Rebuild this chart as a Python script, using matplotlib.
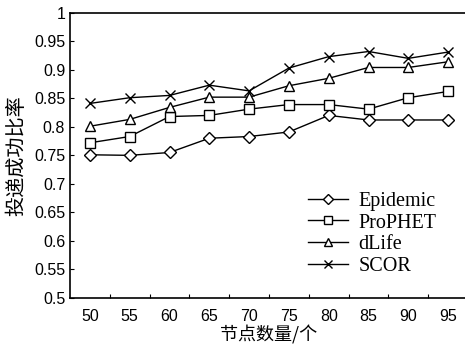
import matplotlib
matplotlib.use('Agg')
import matplotlib.pyplot as plt

# 节点数量 (categories) and delivery ratio per protocol
nodes = ['50', '55', '60', '65', '70', '75', '80', '85', '90', '95']
epidemic = [0.751, 0.750, 0.755, 0.780, 0.783, 0.791, 0.820, 0.812, 0.812, 0.812]
prophet = [0.772, 0.783, 0.818, 0.820, 0.831, 0.839, 0.839, 0.831, 0.851, 0.862]
dlife = [0.801, 0.813, 0.834, 0.852, 0.852, 0.872, 0.885, 0.904, 0.904, 0.914]
scor = [0.841, 0.851, 0.855, 0.873, 0.863, 0.903, 0.923, 0.932, 0.920, 0.931]
yticks = [0.5, 0.55, 0.6, 0.65, 0.7, 0.75, 0.8, 0.85, 0.9, 0.95, 1]

cjk = ['Noto Sans CJK SC', 'DejaVu Sans']
num_font = 'Liberation Sans'

fig = plt.figure(figsize=(4.65, 3.46), dpi=100)
ax = fig.add_axes([70 / 465, 1 - 298 / 346, 398 / 465, (298 - 12.7) / 346])

x = [i + 0.5 for i in range(len(nodes))]
style = dict(color='black', linewidth=1.0, markerfacecolor='white',
             markeredgecolor='black', markeredgewidth=1.0)
ax.plot(x, epidemic, marker='D', markersize=6.5, label='Epidemic', **style)
ax.plot(x, prophet, marker='s', markersize=7, label='ProPHET', **style)
ax.plot(x, dlife, marker='^', markersize=7.5, label='dLife', **style)
ax.plot(x, scor, marker='x', markersize=7, label='SCOR', **style)

ax.set_xlim(0, len(nodes))
ax.set_ylim(0.5, 1.0)
ax.set_xticks(range(1, len(nodes)))
ax.set_xticklabels([])
ax.set_xticks(x, minor=True)
ax.set_xticklabels(nodes, minor=True, fontfamily=num_font, fontsize=11.5)
ax.tick_params(axis='x', which='minor', length=0, pad=8)
ax.tick_params(axis='x', which='major', direction='in', length=3)
ax.set_yticks(yticks)
ax.set_yticklabels([f'{v:g}' for v in yticks], fontfamily=num_font, fontsize=11.5)
ax.tick_params(axis='y', direction='in', length=3)
ax.spines['right'].set_visible(False)
for s in ['left', 'bottom', 'top']:
    ax.spines[s].set_linewidth(1.2)

ax.set_ylabel('投递成功比率', fontfamily=cjk, fontsize=14.5, labelpad=5)
ax.set_xlabel('节点数量/个', fontfamily=cjk, fontsize=13, labelpad=1)

ax.legend(loc='upper left', bbox_to_anchor=(0.578, 0.40), frameon=False,
          prop={'family': 'Liberation Serif', 'size': 14.5},
          handlelength=2.0, handletextpad=0.5, labelspacing=0.12,
          borderaxespad=0, markerscale=0.8)

fig.savefig('out.png', dpi=100)
